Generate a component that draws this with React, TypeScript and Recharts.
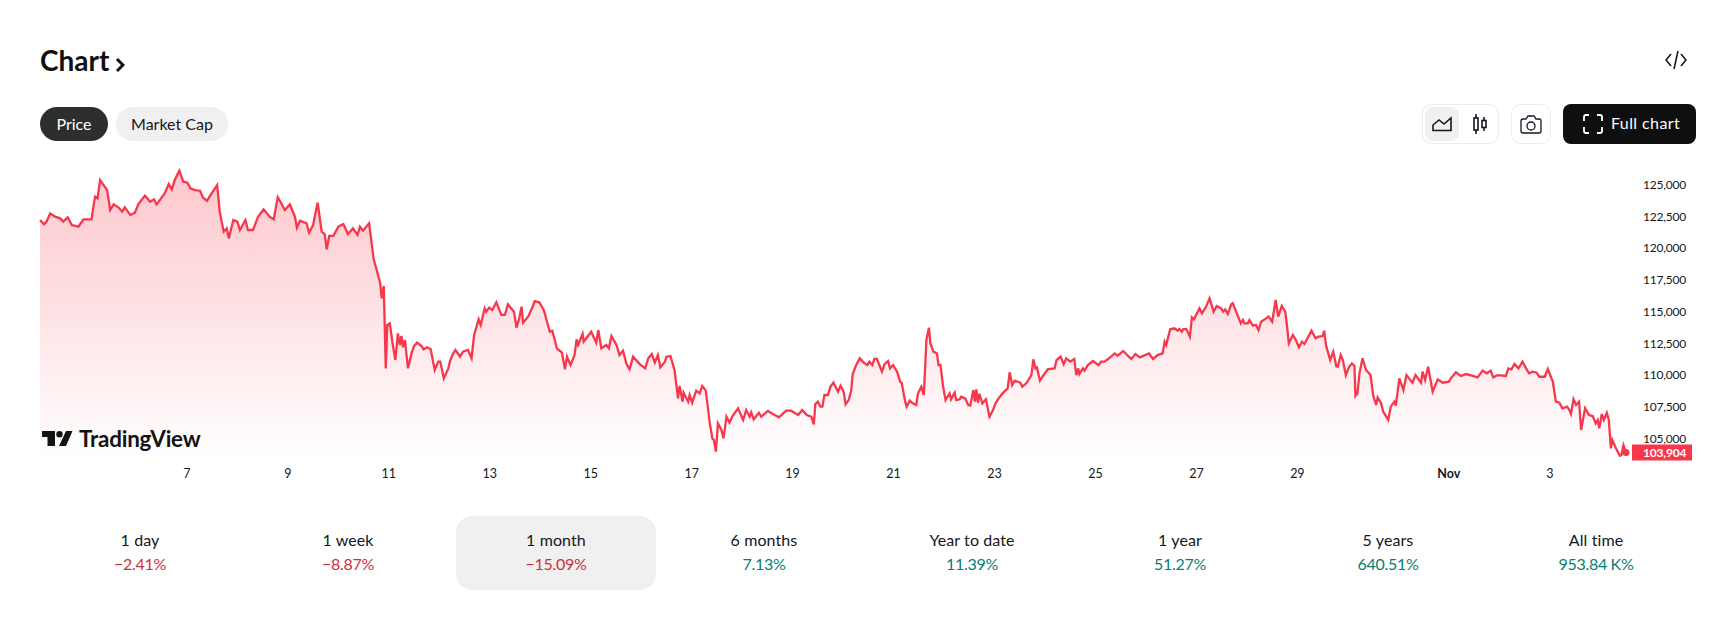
import { AreaChart, Area, XAxis, YAxis, ReferenceDot } from "recharts";

// day of month counted from Oct 1 (day 32 = Nov 1)
const days = [
  4.11, 4.19, 4.24, 4.31, 4.41, 4.51, 4.57, 4.66, 4.74, 4.87,
  4.97, 5.13, 5.2, 5.25, 5.3, 5.44, 5.5, 5.57, 5.66, 5.74,
  5.79, 5.9, 5.99, 6.06, 6.19, 6.29, 6.37, 6.42, 6.58, 6.66,
  6.72, 6.78, 6.87, 6.95, 7.03, 7.09, 7.18, 7.28, 7.34, 7.42,
  7.51, 7.62, 7.67, 7.75, 7.81, 7.85, 7.94, 8.02, 8.07, 8.18,
  8.23, 8.33, 8.43, 8.54, 8.66, 8.74, 8.82, 8.89, 8.96, 9.06,
  9.16, 9.2, 9.26, 9.39, 9.44, 9.52, 9.61, 9.69, 9.75, 9.79,
  9.84, 9.92, 10.02, 10.12, 10.21, 10.31, 10.4, 10.45, 10.51, 10.63,
  10.72, 10.78, 10.85, 10.88, 10.92, 10.96, 10.99, 11.04, 11.09, 11.15,
  11.2, 11.24, 11.27, 11.3, 11.34, 11.4, 11.47, 11.52, 11.58, 11.67,
  11.71, 11.78, 11.85, 11.93, 12.0, 12.04, 12.11, 12.2, 12.23, 12.28,
  12.34, 12.43, 12.49, 12.59, 12.66, 12.71, 12.8, 12.84, 12.92, 12.95,
  13.01, 13.07, 13.15, 13.25, 13.32, 13.38, 13.5, 13.55, 13.6, 13.65,
  13.68, 13.78, 13.87, 13.91, 14.0, 14.09, 14.21, 14.26, 14.35, 14.45,
  14.51, 14.55, 14.62, 14.7, 14.74, 14.77, 14.86, 14.88, 15.03, 15.13,
  15.17, 15.23, 15.33, 15.38, 15.43, 15.53, 15.59, 15.66, 15.73, 15.79,
  15.86, 15.99, 16.1, 16.16, 16.23, 16.29, 16.35, 16.4, 16.49, 16.52,
  16.6, 16.68, 16.75, 16.78, 16.84, 16.86, 16.95, 16.98, 17.03, 17.11,
  17.18, 17.23, 17.3, 17.38, 17.43, 17.46, 17.5, 17.54, 17.61, 17.65,
  17.71, 17.77, 17.83, 17.94, 18.04, 18.1, 18.17, 18.2, 18.25, 18.35,
  18.4, 18.53, 18.63, 18.75, 18.89, 18.99, 19.13, 19.21, 19.3, 19.39,
  19.44, 19.47, 19.52, 19.57, 19.61, 19.65, 19.72, 19.77, 19.83, 19.92,
  19.97, 20.03, 20.07, 20.13, 20.18, 20.21, 20.28, 20.35, 20.43, 20.5,
  20.54, 20.6, 20.64, 20.69, 20.79, 20.84, 20.91, 20.95, 21.01, 21.09,
  21.15, 21.18, 21.25, 21.28, 21.34, 21.4, 21.47, 21.5, 21.57, 21.62,
  21.67, 21.72, 21.75, 21.81, 21.88, 21.91, 21.95, 22.0, 22.05, 22.13,
  22.16, 22.23, 22.26, 22.33, 22.36, 22.44, 22.5, 22.54, 22.6, 22.63,
  22.66, 22.69, 22.72, 22.78, 22.85, 22.92, 22.99, 23.04, 23.1, 23.18,
  23.28, 23.32, 23.37, 23.42, 23.53, 23.57, 23.65, 23.75, 23.79, 23.83,
  23.86, 23.92, 23.98, 24.08, 24.21, 24.25, 24.33, 24.39, 24.44, 24.52,
  24.6, 24.64, 24.68, 24.7, 24.77, 24.8, 24.87, 24.97, 25.08, 25.13,
  25.2, 25.33, 25.4, 25.46, 25.57, 25.66, 25.73, 25.81, 25.9, 26.08,
  26.16, 26.25, 26.35, 26.39, 26.42, 26.5, 26.58, 26.65, 26.68, 26.73,
  26.76, 26.82, 26.89, 26.93, 26.97, 27.08, 27.13, 27.21, 27.28, 27.36,
  27.42, 27.51, 27.55, 27.59, 27.64, 27.71, 27.74, 27.82, 27.9, 27.94,
  27.97, 28.04, 28.07, 28.14, 28.2, 28.25, 28.3, 28.4, 28.45, 28.52,
  28.59, 28.64, 28.71, 28.78, 28.82, 28.85, 28.93, 28.99, 29.05, 29.11,
  29.16, 29.22, 29.3, 29.38, 29.44, 29.52, 29.55, 29.59, 29.67, 29.73,
  29.79, 29.82, 29.88, 29.92, 29.98, 30.04, 30.1, 30.15, 30.17, 30.21,
  30.25, 30.31, 30.38, 30.47, 30.52, 30.58, 30.61, 30.68, 30.72, 30.82,
  30.87, 30.94, 30.97, 31.04, 31.12, 31.18, 31.3, 31.36, 31.47, 31.5,
  31.55, 31.61, 31.7, 31.8, 31.9, 32.02, 32.06, 32.16, 32.26, 32.36,
  32.46, 32.59, 32.69, 32.77, 32.85, 32.9, 32.99, 33.15, 33.2, 33.26,
  33.32, 33.4, 33.48, 33.55, 33.61, 33.68, 33.76, 33.81, 33.92, 33.98,
  34.08, 34.14, 34.21, 34.27, 34.36, 34.41, 34.44, 34.49, 34.54, 34.6,
  34.64, 34.72, 34.8, 34.87, 34.93, 34.97, 35.0, 35.05, 35.09, 35.15,
  35.19, 35.23, 35.26, 35.33, 35.41, 35.44, 35.48, 35.53,
];

const prices = [
  122240, 121900, 122110, 122760, 122500, 122370, 122110, 122450, 121840, 121710,
  122290, 122290, 124080, 123950, 125390, 124600, 123030, 123470, 123240, 122900,
  123240, 122630, 122820, 123500, 124160, 123680, 123870, 123470, 124340, 125080,
  124660, 125390, 126130, 125260, 125180, 124740, 124600, 124550, 124000, 123760,
  124340, 125000, 122900, 121320, 121580, 120790, 122240, 122110, 121450, 122240,
  121450, 121450, 122500, 123080, 122500, 122290, 124030, 123550, 123030, 123470,
  122500, 121630, 122190, 121980, 121240, 121840, 123610, 121320, 121130, 119930,
  120980, 120980, 121710, 121920, 121130, 121580, 121060, 121710, 121400, 121980,
  119140, 118300, 117240, 116060, 117030, 110540, 113960, 114090, 112640, 111200,
  113300, 112380, 113090, 112200, 112780, 110540, 111720, 112300, 112570, 112300,
  112040, 112200, 112040, 110410, 111070, 111070, 109750, 110540, 111070, 111590,
  111990, 111460, 111860, 111990, 111330, 113170, 114410, 113960, 115270, 115010,
  115330, 115140, 115750, 114750, 114750, 115590, 115010, 113750, 114410, 115400,
  114140, 114620, 115400, 115850, 115750, 115140, 113430, 113510, 112120, 111780,
  110460, 111460, 110800, 111590, 112830, 112380, 113250, 112640, 113430, 112570,
  113560, 112120, 112380, 112120, 113090, 112380, 111590, 111930, 110880, 110460,
  111460, 110880, 110540, 111330, 111670, 110990, 111590, 110620, 111070, 111460,
  111510, 110410, 108170, 109150, 107910, 108620, 107910, 108440, 107830, 108780,
  108570, 109150, 108780, 106200, 105020, 104890, 103970, 106200, 105680, 105020,
  106730, 106260, 106780, 107390, 106470, 107250, 106730, 107070, 106520, 107040,
  106730, 107180, 106940, 106680, 107200, 107200, 106860, 107250, 106860, 106730,
  106120, 107730, 107910, 107520, 107520, 108440, 108440, 109100, 109410, 108700,
  109170, 108700, 107700, 108040, 108780, 110090, 110800, 111330, 110990, 110800,
  111070, 110800, 111280, 111280, 110280, 110880, 111120, 110540, 110800, 110280,
  109490, 109410, 107910, 107520, 107990, 107780, 107650, 108520, 109100, 108440,
  112780, 113750, 112510, 111860, 111720, 110800, 110800, 109150, 108040, 108570,
  108100, 108620, 108040, 108100, 108310, 108170, 107650, 107600, 108830, 107910,
  108880, 107830, 108520, 107780, 108100, 106730, 107250, 107780, 108170, 108570,
  108960, 110230, 109230, 109570, 109410, 109100, 109360, 110010, 111250, 110540,
  110620, 109570, 109940, 110490, 110540, 111200, 111460, 110860, 111330, 111070,
  111280, 110010, 110540, 110090, 110540, 110360, 110800, 111120, 110800, 111070,
  111070, 111460, 111720, 111540, 111910, 111540, 111280, 111670, 111410, 111720,
  111280, 111590, 111720, 112640, 112380, 113620, 113700, 113510, 113640, 113430,
  113640, 113640, 113040, 114560, 114410, 115270, 114880, 115400, 116060, 115010,
  115460, 115270, 115010, 115190, 114830, 115590, 115670, 114880, 114090, 114350,
  114090, 114090, 114350, 113910, 113960, 113560, 114220, 114480, 114620, 114220,
  115930, 114620, 115460, 115010, 113700, 112510, 113170, 112780, 112200, 112640,
  112460, 112910, 113510, 112910, 113040, 113090, 113510, 112300, 111200, 111860,
  110720, 110670, 111590, 111200, 110010, 110620, 110930, 110720, 108360, 108570,
  110150, 111330, 110410, 110010, 108440, 107650, 108250, 107780, 107120, 106470,
  107520, 107910, 107600, 109750, 108830, 110010, 109410, 110010, 109410, 110280,
  109620, 110670, 108700, 109670, 109410, 109490, 109750, 110230, 109940, 110090,
  109990, 109830, 110360, 110150, 110360, 109830, 110010, 109940, 110540, 110460,
  110880, 110540, 111070, 110540, 110150, 110280, 110200, 109880, 109880, 110490,
  109490, 107910, 107830, 107390, 107520, 107250, 106940, 108100, 107650, 107910,
  105680, 107390, 106860, 106780, 106200, 106470, 105810, 106940, 106470, 107040,
  106470, 104230, 104890, 104230, 103650, 103700, 104490, 103904,
];

const xTickDays = [7, 9, 11, 13, 15, 17, 19, 21, 23, 25, 27, 29, 32, 34];
const xTickLabels = ["7", "9", "11", "13", "15", "17", "19", "21", "23", "25", "27", "29", "Nov", "3"];
const yTicks = [105000, 107500, 110000, 112500, 115000, 117500, 120000, 122500, 125000];
const lastPrice = 103904;

const periods = ["1 day", "1 week", "1 month", "6 months", "Year to date", "1 year", "5 years", "All time"];
const changes = ["−2.41%", "−8.87%", "−15.09%", "7.13%", "11.39%", "51.27%", "640.51%", "953.84\u202FK%"];

const data = days.map((day, i) => ({ day, price: prices[i] }));

const FONT = "Lato, 'Noto Sans', sans-serif";
const INK = "#131722";
const LINE_RED = "#F7374B";

const XTick = ({ x, y, payload }: any) => {
  const label = xTickLabels[xTickDays.indexOf(payload.value)];
  return (
    <text x={x + 1} y={y} dy={10} textAnchor="middle" fontSize={12.5} fontFamily={FONT} fontWeight={label === "Nov" ? 700 : 400} fill={INK}>
      {label}
    </text>
  );
};

const YTick = ({ x, y, payload }: any) => {
  const label = payload.value.toLocaleString("en-US");
  if (payload.value === lastPrice) {
    return (
      <g>
        <rect x={x - 2} y={y - 8} width={60} height={16} fill={LINE_RED} />
        <text x={x + 9} y={y + 4} fontSize={12} letterSpacing={-0.2} fontFamily={FONT} fontWeight={700} fill="#fff">
          {label}
        </text>
      </g>
    );
  }
  return (
    <text x={x + 9} y={y + 4} fontSize={12} letterSpacing={-0.2} fontFamily={FONT} fill={INK}>
      {label}
    </text>
  );
};

const box = (left: number, top: number, width: number, height: number): React.CSSProperties => ({
  position: "absolute",
  left,
  top,
  width,
  height,
  display: "flex",
  alignItems: "center",
  justifyContent: "center",
  boxSizing: "border-box",
});

const Icon = ({ left, top, w, h, stroke = "#131722", width = 1.6, children }: any) => (
  <svg style={{ position: "absolute", left, top }} width={w} height={h} viewBox={`0 0 ${w} ${h}`} fill="none" stroke={stroke} strokeWidth={width}>
    {children}
  </svg>
);

export default function App() {
  return (
    <div style={{ position: "absolute", left: 0, top: 0, width: 1736, height: 627, background: "#fff", fontFamily: FONT, color: INK, overflow: "hidden" }}>
      <div style={{ position: "absolute", left: 40, top: 43, fontSize: 28, fontWeight: 700, lineHeight: "34px", color: "#0f0f0f" }}>Chart</div>
      <Icon left={115} top={57} w={10} h={16} width={3}>
        <path d="M2 2 L8 8 L2 14" stroke="#0f0f0f" />
      </Icon>
      <Icon left={1665} top={50} w={22} h={20}>
        <path d="M6 4 L1 10 L6 16 M16 4 L21 10 L16 16 M13 1 L9 19" />
      </Icon>

      <div style={{ ...box(40, 106, 68, 34), fontSize: 16, color: "#fff" }} />
      <div style={{ ...box(40, 107, 68, 34), borderRadius: 17, background: "#2e2e2e" }} />
      <div style={{ ...box(40, 106, 68, 34), fontSize: 16, color: "#fff" }}>Price</div>
      <div style={{ ...box(116, 107, 112, 34), borderRadius: 17, background: "#f0f0f0" }} />
      <div style={{ ...box(116, 106, 112, 34), fontSize: 16 }}>Market Cap</div>

      <div style={{ ...box(1422, 104, 77, 40), border: "1px solid #ebebeb", borderRadius: 10 }} />
      <div style={{ ...box(1425, 107, 34, 34), borderRadius: 8, background: "#f0f0f0" }} />
      <Icon left={1431} top={116} w={22} h={16}>
        <path d="M2 14.5 V9 L8 4 L13 8 L20 2 V14.5 Z" />
      </Icon>
      <Icon left={1472} top={113} w={16} h={22}>
        <rect x="2" y="5" width="4" height="12" />
        <path d="M4 1 V5 M4 17 V21" />
        <rect x="10" y="7.5" width="4" height="7" />
        <path d="M12 4 V7.5 M12 14.5 V18" />
      </Icon>
      <div style={{ ...box(1511, 104, 40, 40), border: "1px solid #ebebeb", borderRadius: 10 }} />
      <Icon left={1519} top={114} w={24} h={20} width={1.3}>
        <path d="M4 5 H7 L9 2 H15 L17 5 H20 Q22 5 22 7 V17 Q22 19 20 19 H4 Q2 19 2 17 V7 Q2 5 4 5 Z" />
        <circle cx="12" cy="12" r="4" />
      </Icon>
      <div style={{ ...box(1563, 104, 133, 40), borderRadius: 8, background: "#0f0f0f" }} />
      <Icon left={1582} top={113} w={22} h={22} stroke="#fff" width={1.8}>
        <path d="M2 8 V4 Q2 2 4 2 H7 M15 2 H18 Q20 2 20 4 V8 M20 14 V18 Q20 20 18 20 H15 M7 20 H4 Q2 20 2 18 V14" />
      </Icon>
      <div style={{ position: "absolute", left: 1611, top: 113, fontSize: 16, lineHeight: "20px", letterSpacing: 0.4, color: "#fff" }}>Full chart</div>

      <div style={{ position: "absolute", left: 0, top: 160 }}>
        <AreaChart width={1736} height={320} data={data} margin={{ top: 5, right: 0, bottom: 0, left: 40 }}>
          <defs>
            <linearGradient id="priceFill" x1="0" y1="0" x2="0" y2="1">
              <stop offset="0%" stopColor={LINE_RED} stopOpacity={0.28} />
              <stop offset="100%" stopColor={LINE_RED} stopOpacity={0} />
            </linearGradient>
          </defs>
          <XAxis
            dataKey="day"
            type="number"
            domain={[4.11, 35.53]}
            ticks={xTickDays}
            interval={0}
            height={20}
            axisLine={false}
            tickLine={false}
            tick={<XTick />}
          />
          <YAxis
            orientation="right"
            domain={[103313, 126577]}
            ticks={[...yTicks, lastPrice]}
            interval={0}
            width={110}
            axisLine={false}
            tickLine={false}
            tick={<YTick />}
          />
          <Area
            type="linear"
            dataKey="price"
            stroke={LINE_RED}
            strokeWidth={2.3}
            fill="url(#priceFill)"
            fillOpacity={1}
            dot={false}
            activeDot={false}
            isAnimationActive={false}
          />
          <ReferenceDot x={35.53} y={lastPrice} r={3.5} fill={LINE_RED} stroke="none" />
        </AreaChart>
      </div>

      <svg style={{ position: "absolute", left: 42, top: 431 }} width={32} height={16} viewBox="0 0 32 16" fill="#131313">
        <path d="M0 0 H13 V15 H5.5 V6 H0 Z" />
        <circle cx="17.5" cy="3.2" r="3.2" />
        <path d="M24 0 H30.5 L24 15 H17 Z" />
      </svg>
      <div style={{ position: "absolute", left: 79, top: 426, fontSize: 22.4, fontWeight: 700, lineHeight: "26px", color: "#131313", letterSpacing: -0.2 }}>TradingView</div>

      <div style={{ ...box(456, 516, 200, 74), borderRadius: 16, background: "#f0f0f0" }} />
      {periods.map((period, i) => (
        <div key={period}>
          <div style={{ ...box(36 + i * 208, 529, 208, 20), fontSize: 16, letterSpacing: 0.1 }}>{period}</div>
          <div style={{ ...box(36 + i * 208, 553, 208, 20), fontSize: 16, letterSpacing: -0.3, color: i < 3 ? "#CC2F3C" : "#057F70" }}>{changes[i]}</div>
        </div>
      ))}
    </div>
  );
}
